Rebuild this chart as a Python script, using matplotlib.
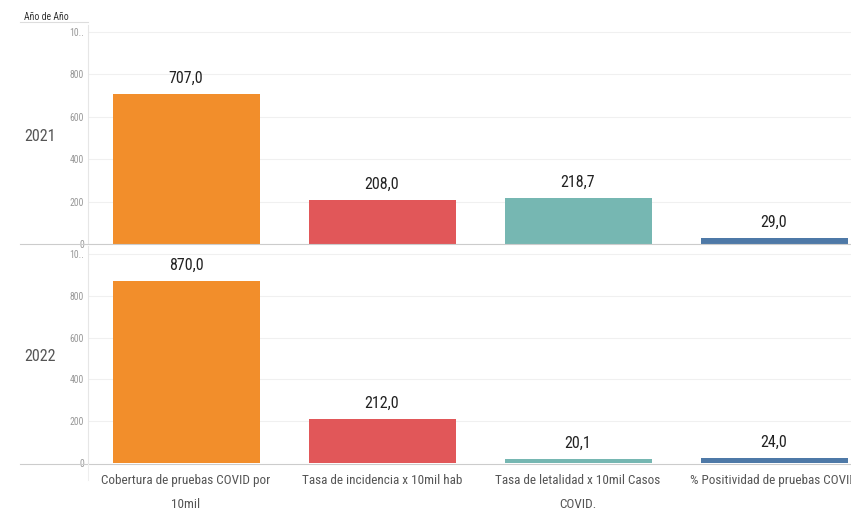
import matplotlib
matplotlib.use("Agg")
import matplotlib.pyplot as plt
from matplotlib import font_manager as fm
from matplotlib.lines import Line2D

names = {f.name for f in fm.fontManager.ttflist}
FONT = "DejaVu Sans"
for cand in ["Roboto Condensed", "Open Sans Condensed", "Archivo Narrow", "Barlow Semi Condensed"]:
    if cand in names:
        FONT = cand
        break
plt.rcParams['font.family'] = [FONT, 'DejaVu Sans']

categories = ["Cobertura de pruebas COVID por\n10mil", "Tasa de incidencia x 10mil hab",
              "Tasa de letalidad x 10mil Casos\nCOVID.", "% Positividad de pruebas COVID"]
years = ["2021", "2022"]
values_2021 = [707.0, 208.0, 218.7, 29.0]
values_2022 = [870.0, 212.0, 20.1, 24.0]
colors = ["#F28E2B", "#E15759", "#76B7B2", "#4E79A7"]
yticks = [0, 200, 400, 600, 800, 1000]
ytick_labels = ["0", "200", "400", "600", "800", "10.."]

W, H = 851, 513
fig = plt.figure(figsize=(W/100, H/100), dpi=100)

x0 = 88
x1 = 88 + 4*196
panels = [(values_2021, 244, 25, 0.212), (values_2022, 463, 246, 0.209)]

def fx(p): return p / W
def fy(p): return 1 - p / H

for i, (vals, ybot, ytop, scale) in enumerate(panels):
    ax = fig.add_axes([fx(x0), fy(ybot), fx(x1 - x0), (ybot - ytop) / H])
    ax.set_xlim(-0.5, 3.5)
    ax.set_ylim(0, (ybot - ytop) / scale)
    ax.bar(range(4), vals, width=0.75, color=colors, zorder=2)
    for k, v in enumerate(vals):
        ax.text(k, v + 8 / scale, f"{v:.1f}".replace(".", ","), ha="center", va="bottom",
                fontsize=11.5, color="#222222", zorder=3)
    ax.set_yticks(yticks)
    ax.set_yticklabels(ytick_labels, fontsize=7, color="#999999")
    ax.tick_params(axis="y", length=0, pad=3)
    ax.grid(axis="y", color="#f0f0f0", linewidth=0.8, zorder=0)
    for s in ["top", "right", "bottom"]:
        ax.spines[s].set_visible(False)
    ax.spines["left"].set_color("#e6e6e6")
    if i == 1:
        ax.set_xticks(range(4))
        ax.set_xticklabels(categories, fontsize=9.5, color="#555555", linespacing=2.1)
        ax.tick_params(axis="x", length=0, pad=8)
    else:
        ax.set_xticks([])
    fig.text(fx(24), fy((ybot + ytop) / 2 + 2), years[i], fontsize=11.5, color="#555555",
             ha="left", va="center")

# header and separator lines
fig.add_artist(Line2D([fx(20), fx(88)], [fy(22), fy(22)], color="#dddddd", lw=0.8))
fig.add_artist(Line2D([fx(20), 1], [fy(244), fy(244)], color="#cccccc", lw=0.8))
fig.add_artist(Line2D([fx(20), 1], [fy(464), fy(464)], color="#cccccc", lw=0.8))
fig.add_artist(Line2D([fx(88), fx(88)], [fy(464), fy(480)], color="#eeeeee", lw=0.8))
fig.text(fx(24), fy(17), "Año de Año", fontsize=7, color="#333333", ha="left", va="center")

fig.savefig("out.png", dpi=100)
